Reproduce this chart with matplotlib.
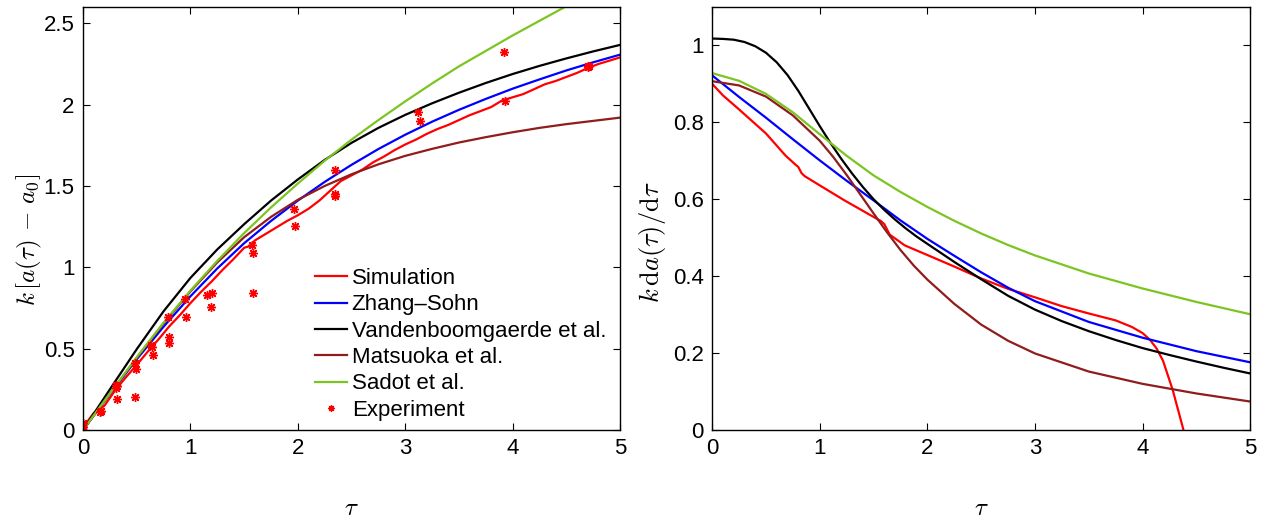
import matplotlib
matplotlib.use("Agg")
import matplotlib.pyplot as plt

plt.rcParams['font.family'] = ['Liberation Sans', 'DejaVu Sans']
plt.rcParams['mathtext.fontset'] = 'cm'

# ---- amplitude k[a(tau) - a0] ----
tau_sim = [0, 0.05, 0.1, 0.15, 0.2, 0.3, 0.4, 0.5, 0.6, 0.7, 0.8, 0.9, 1.0,
           1.1, 1.2, 1.3, 1.4, 1.5, 1.55, 1.6, 1.7, 1.8, 1.9, 2.0, 2.1, 2.2,
           2.3, 2.4, 2.5, 2.6, 2.7, 2.8, 2.9, 3.0, 3.1, 3.2, 3.3, 3.4, 3.5,
           3.6, 3.7, 3.8, 3.9, 4.0, 4.1, 4.2, 4.3, 4.4, 4.5, 4.6, 4.7, 4.8,
           4.9, 5.0]
amp_sim = [0, 0.06, 0.105, 0.125, 0.15, 0.245, 0.325, 0.40, 0.48, 0.555,
           0.635, 0.705, 0.78, 0.85, 0.915, 0.985, 1.05, 1.12, 1.13, 1.165,
           1.205, 1.245, 1.285, 1.32, 1.36, 1.41, 1.47, 1.53, 1.565, 1.60,
           1.645, 1.68, 1.72, 1.755, 1.785, 1.82, 1.85, 1.875, 1.905, 1.935,
           1.96, 1.985, 2.025, 2.045, 2.065, 2.095, 2.125, 2.145, 2.17,
           2.195, 2.225, 2.25, 2.27, 2.29]

tau_model = [0, 0.25, 0.5, 0.75, 1.0, 1.25, 1.5, 1.75, 2.0, 2.25, 2.5,
             2.75, 3.0, 3.25, 3.5, 3.75, 4.0, 4.25, 4.5, 4.75, 5.0]
amp_zhang = [0, 0.222, 0.435, 0.635, 0.822, 0.993, 1.148, 1.285, 1.41,
             1.525, 1.63, 1.727, 1.815, 1.895, 1.968, 2.035, 2.098, 2.155,
             2.21, 2.26, 2.307]
amp_vanden = [0, 0.25, 0.497, 0.73, 0.935, 1.11, 1.265, 1.41, 1.54, 1.66,
              1.765, 1.857, 1.937, 2.008, 2.073, 2.133, 2.188, 2.238, 2.284,
              2.327, 2.367]
amp_matsuoka = [0, 0.224, 0.443, 0.655, 0.852, 1.03, 1.185, 1.31, 1.415,
                1.5, 1.572, 1.633, 1.685, 1.728, 1.767, 1.80, 1.83, 1.857,
                1.88, 1.90, 1.92]
amp_sadot = [0, 0.225, 0.448, 0.66, 0.857, 1.04, 1.21, 1.368, 1.515, 1.655,
             1.785, 1.905, 2.02, 2.13, 2.235, 2.33, 2.425, 2.515, 2.605,
             2.69, 2.775]

tau_exp = [0, 0, 0, 0.16, 0.17, 0.31, 0.31, 0.32, 0.32, 0.48, 0.48, 0.49,
           0.63, 0.64, 0.65, 0.79, 0.8, 0.8, 0.95, 0.96, 1.15, 1.19, 1.2,
           1.57, 1.58, 1.58, 1.96, 1.97, 2.35, 2.35, 2.35, 3.12, 3.14, 3.92,
           3.93, 4.7, 4.7, 4.71]
amp_exp = [0.0, 0.02, 0.04, 0.11, 0.115, 0.26, 0.275, 0.19, 0.27, 0.204,
           0.41, 0.375, 0.52, 0.51, 0.46, 0.695, 0.569, 0.532, 0.808, 0.695,
           0.828, 0.753, 0.845, 1.135, 1.09, 0.845, 1.36, 1.254, 1.601,
           1.448, 1.44, 1.957, 1.902, 2.325, 2.025, 2.23, 2.24, 2.235]

# ---- growth rate k da/dtau ----
tau_rate_sim = [0, 0.1, 0.24, 0.5, 0.68, 0.77, 0.8, 0.83, 0.86, 1.0, 1.23,
                1.5, 1.57, 1.6, 1.65, 1.7, 1.79, 2.0, 2.25, 2.5, 2.75, 3.0,
                3.25, 3.5, 3.75, 3.9, 4.0, 4.07, 4.13, 4.19, 4.28, 4.38]
rate_sim = [0.90, 0.87, 0.836, 0.771, 0.714, 0.691, 0.684, 0.668, 0.66,
            0.636, 0.597, 0.554, 0.543, 0.535, 0.508, 0.498, 0.48, 0.455,
            0.425, 0.394, 0.367, 0.345, 0.322, 0.303, 0.285, 0.268, 0.252,
            0.234, 0.212, 0.18, 0.104, 0.0]

tau_rate = [0, 0.25, 0.5, 0.75, 1.0, 1.25, 1.5, 1.75, 2.0, 2.25, 2.5, 2.75,
            3.0, 3.5, 4.0, 4.5, 5.0]
rate_zhang = [0.922, 0.866, 0.812, 0.756, 0.701, 0.648, 0.597, 0.545,
              0.497, 0.453, 0.41, 0.37, 0.335, 0.281, 0.24, 0.205, 0.176]
rate_sadot = [0.928, 0.908, 0.874, 0.826, 0.769, 0.713, 0.662, 0.619, 0.58,
              0.544, 0.511, 0.481, 0.454, 0.407, 0.368, 0.333, 0.301]

tau_matsuoka = [0, 0.25, 0.5, 0.75, 1.0, 1.125, 1.25, 1.375, 1.5, 1.625,
                1.75, 1.875, 2.0, 2.25, 2.5, 2.75, 3.0, 3.5, 4.0, 4.5, 5.0]
rate_matsuoka = [0.907, 0.896, 0.867, 0.818, 0.752, 0.71, 0.663, 0.613,
                 0.563, 0.514, 0.468, 0.427, 0.391, 0.328, 0.274, 0.232,
                 0.199, 0.152, 0.12, 0.095, 0.074]

tau_vanden = [0, 0.1, 0.2, 0.3, 0.4, 0.5, 0.6, 0.7, 0.8, 0.9, 1.0, 1.1, 1.2,
              1.3, 1.4, 1.5, 1.6, 1.7, 1.8, 1.9, 2.0, 2.25, 2.5, 2.75, 3.0,
              3.25, 3.5, 3.75, 4.0, 4.25, 4.5, 4.75, 5.0]
rate_vanden = [1.018, 1.017, 1.015, 1.009, 0.998, 0.981, 0.956, 0.923,
               0.882, 0.836, 0.79, 0.746, 0.705, 0.667, 0.632, 0.60, 0.572,
               0.547, 0.524, 0.503, 0.484, 0.437, 0.392, 0.349, 0.313,
               0.283, 0.257, 0.234, 0.213, 0.195, 0.178, 0.162, 0.147]

RED = '#ff0000'
BLUE = '#0000ff'
BLACK = '#000000'
BROWN = '#901c1c'
GREEN = '#7cc520'
LW = 1.6

fig = plt.figure(figsize=(12.7, 5.19), dpi=100)
ax1 = fig.add_axes([0.0654, 0.1715, 0.4228, 0.815])
ax2 = fig.add_axes([0.5608, 0.1715, 0.4236, 0.815])

ax1.plot(tau_sim, amp_sim, color=RED, lw=LW, label='Simulation')
ax1.plot(tau_model, amp_zhang, color=BLUE, lw=LW, label='Zhang\u2013Sohn')
ax1.plot(tau_model, amp_vanden, color=BLACK, lw=LW,
         label='Vandenboomgaerde et al.')
ax1.plot(tau_model, amp_matsuoka, color=BROWN, lw=LW, label='Matsuoka et al.')
ax1.plot(tau_model, amp_sadot, color=GREEN, lw=LW, label='Sadot et al.')
ax1.plot(tau_exp, amp_exp, linestyle='none', marker=(8, 2, 0), ms=6.5,
         mew=1.0, color=RED, label='Experiment')

ax2.plot(tau_rate_sim, rate_sim, color=RED, lw=LW)
ax2.plot(tau_rate, rate_zhang, color=BLUE, lw=LW)
ax2.plot(tau_vanden, rate_vanden, color=BLACK, lw=LW)
ax2.plot(tau_matsuoka, rate_matsuoka, color=BROWN, lw=LW)
ax2.plot(tau_rate, rate_sadot, color=GREEN, lw=LW)

ax1.set_xlim(0, 5)
ax1.set_ylim(0, 2.6)
ax1.set_yticks([0, 0.5, 1, 1.5, 2, 2.5])
ax1.set_yticklabels(['0', '0.5', '1', '1.5', '2', '2.5'])
ax2.set_xlim(0, 5)
ax2.set_ylim(0, 1.1)
ax2.set_yticks([0, 0.2, 0.4, 0.6, 0.8, 1])
ax2.set_yticklabels(['0', '0.2', '0.4', '0.6', '0.8', '1'])

for ax in (ax1, ax2):
    ax.set_xticks([0, 1, 2, 3, 4, 5])
    ax.tick_params(direction='in', length=5, width=0.8, labelsize=16,
                   top=True, right=True, pad=6)
    for sp in ax.spines.values():
        sp.set_linewidth(1.0)
    ax.set_xlabel(r'$\tau$', fontsize=18)
    ax.xaxis.set_label_coords(0.5, -0.155)

ax1.set_ylabel(r'$k\,[a(\tau)\,-\,a_0]$', fontsize=18)
ax1.yaxis.set_label_coords(-0.073, 0.45)
ax2.set_ylabel(r'$k\,\mathrm{d}a(\tau)/\mathrm{d}\tau$', fontsize=19)
ax2.yaxis.set_label_coords(-0.082, 0.445)

ax1.legend(loc='upper left', bbox_to_anchor=(0.432, 0.383), frameon=False,
           fontsize=16, handlelength=1.45, handletextpad=0.2,
           labelspacing=0.24, borderpad=0, borderaxespad=0, markerscale=0.7)

fig.savefig('out.png', dpi=100)
